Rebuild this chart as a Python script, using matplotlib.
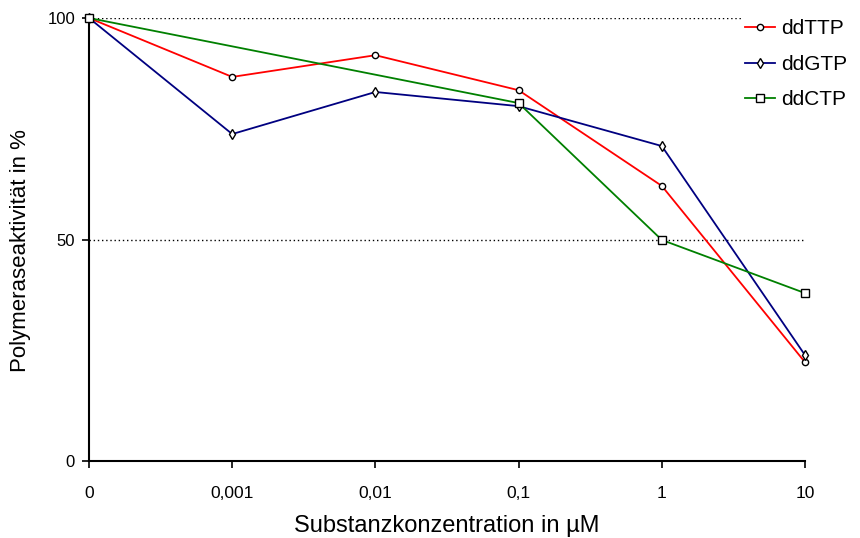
import matplotlib
matplotlib.use("Agg")
import matplotlib.pyplot as plt

plt.rcParams['font.family'] = ['Liberation Sans', 'DejaVu Sans']

categories = ["0", "0,001", "0,01", "0,1", "1", "10"]
ddTTP = [100, 86.7, 91.6, 83.7, 62.1, 22.3]
ddGTP = [100, 73.8, 83.3, 80.1, 71.1, 23.9]
ddCTP_cats = ["0", "0,1", "1", "10"]
ddCTP = [100, 80.8, 49.9, 37.9]
yticks = [0, 50, 100]

fig = plt.figure(figsize=(8.6, 5.38), dpi=100)
ax = fig.add_axes([89/860, 1-461/538, (805-89)/860, (461-18)/538])

xpos = list(range(len(categories)))
ctp_pos = [categories.index(c) for c in ddCTP_cats]

for v in [50, 100]:
    ax.axhline(v, color='black', linestyle=(0, (1, 2)), linewidth=1.0, zorder=1)

ax.plot(xpos, ddTTP, color='#ff0000', lw=1.3, marker='o', ms=4.5, mfc='white',
        mec='black', mew=1.0, label='ddTTP', zorder=3, clip_on=False)
ax.plot(xpos, ddGTP, color='#000080', lw=1.3, marker='d', ms=5, mfc='white',
        mec='black', mew=1.0, label='ddGTP', zorder=3, clip_on=False)
ax.plot(ctp_pos, ddCTP, color='#008000', lw=1.3, marker='s', ms=6, mfc='white',
        mec='black', mew=1.0, label='ddCTP', zorder=3, clip_on=False)

ax.set_xlim(0, 5)
ax.set_ylim(0, 100)
ax.set_xticks(xpos)
ax.set_xticklabels(categories)
ax.set_yticks(yticks)
ax.set_yticklabels([str(t) for t in yticks])
ax.tick_params(axis='x', direction='out', length=5, width=1.2, pad=13, labelsize=12.5)
ax.tick_params(axis='y', direction='out', length=5, width=1.2, pad=5, labelsize=12)
for s in ['top', 'right']:
    ax.spines[s].set_visible(False)
for s in ['left', 'bottom']:
    ax.spines[s].set_linewidth(1.5)

ax.set_xlabel('Substanzkonzentration in µM', fontsize=17, labelpad=10)
ax.set_ylabel('Polymeraseaktivität in %', fontsize=16)
ax.yaxis.set_label_coords(-58/716, 0.474)

leg = fig.legend(loc='upper left', bbox_to_anchor=(742/860, 1-16/538), frameon=True,
                 fontsize=15, handlelength=1.45, handletextpad=0.3, labelspacing=0.8,
                 borderpad=0.15, borderaxespad=0)
leg.get_frame().set_edgecolor('white')
leg.get_frame().set_facecolor('white')
leg.get_frame().set_alpha(1)
for h in leg.legend_handles:
    h.set_linewidth(1.3)

fig.savefig('out.png', dpi=100)
